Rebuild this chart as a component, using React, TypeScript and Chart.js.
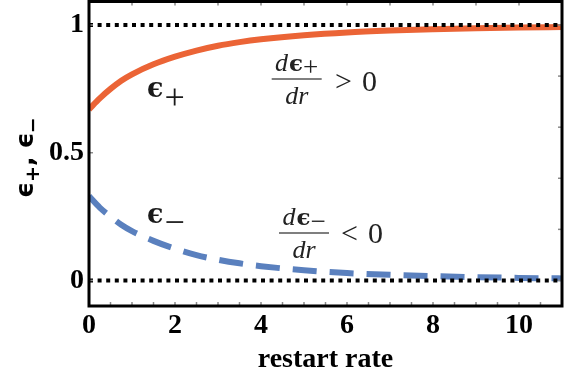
import React, { useEffect, useRef } from "react";
import { Chart, registerables } from "chart.js";

Chart.register(...registerables);

// ---- data ----
const rates = [0, 0.25, 0.5, 0.75, 1, 1.5, 2, 2.5, 3, 3.5, 4, 5, 6, 7, 8, 9, 10, 11];
const epsPlus = [0.67, 0.713, 0.75, 0.782, 0.807, 0.846, 0.876, 0.9, 0.919, 0.933, 0.944, 0.96, 0.971, 0.978, 0.983, 0.987, 0.99, 0.992];
const epsMinus = [0.33, 0.285, 0.25, 0.218, 0.193, 0.155, 0.124, 0.099, 0.081, 0.067, 0.056, 0.04, 0.029, 0.022, 0.017, 0.013, 0.01, 0.008];
const limitRates = [0, 11];
const upperLimit = [1, 1];
const lowerLimit = [0, 0];
const xTickValues = [0, 2, 4, 6, 8, 10];
const yTickValues = [0, 0.5, 1];
const yTickLabels = ["0", "0.5", "1"];
const xMinorBottom = [0, 0.5, 1, 1.5, 2, 2.5, 3, 3.5, 4, 4.5, 5, 5.5, 6, 6.5, 7, 7.5, 8, 8.5, 9, 9.5, 10, 10.5];
const xMinorTop = [1, 2, 3, 4, 5, 6, 7, 8, 9, 10];
const yMinorLeft = [0, 0.5, 1];
const yMinorRight = [0, 0.2, 0.4, 0.6, 0.8, 1];
const xTitle = "restart rate";

const ORANGE = "#EB6436";
const BLUE = "#5A80BE";

type Seg = { t: string; font: string; dy?: number; dx?: number };

function segWidth(ctx: CanvasRenderingContext2D, segs: Seg[]) {
  let w = 0;
  for (const s of segs) {
    ctx.font = s.font;
    w += ctx.measureText(s.t).width + (s.dx || 0);
  }
  return w;
}

function drawSegs(ctx: CanvasRenderingContext2D, segs: Seg[], x: number, y: number, align: "left" | "center" = "left") {
  let cx = align === "center" ? x - segWidth(ctx, segs) / 2 : x;
  ctx.textBaseline = "alphabetic";
  ctx.textAlign = "left";
  for (const s of segs) {
    ctx.font = s.font;
    cx += s.dx || 0;
    ctx.fillText(s.t, cx, y + (s.dy || 0));
    cx += ctx.measureText(s.t).width;
  }
}

const EPS_FONT = "bold 27px 'DejaVu Serif'";
const BIG_PLUS = "36px 'Liberation Serif'";
const MATH_IT = "italic 26px 'Liberation Serif'";
const MATH_RM = "30px 'Liberation Serif'";
const SUB_RM = "27px 'Liberation Serif'";
const TITLE_EPS = "bold 25px 'DejaVu Sans'";
const TITLE_SUB = "bold 19px 'DejaVu Sans'";

const decorPlugin = {
  id: "decor",
  afterDatasetsDraw(chart: any) {
    const { ctx, chartArea: a, scales } = chart;
    const x = scales.x;
    const y = scales.y;
    ctx.save();
    // small inner tick marks
    ctx.strokeStyle = "#8a8a8a";
    ctx.lineWidth = 1.5;
    const seg = (x1: number, y1: number, x2: number, y2: number) => {
      ctx.beginPath();
      ctx.moveTo(x1, y1);
      ctx.lineTo(x2, y2);
      ctx.stroke();
    };
    xMinorBottom.forEach((v) => {
      const p = x.getPixelForValue(v);
      seg(p, a.bottom, p, a.bottom - 4);
    });
    xMinorTop.forEach((v) => {
      const p = x.getPixelForValue(v);
      seg(p, a.top, p, a.top + 4);
    });
    yMinorLeft.forEach((v) => {
      const p = y.getPixelForValue(v);
      seg(a.left, p, a.left + 4, p);
    });
    yMinorRight.forEach((v) => {
      const p = y.getPixelForValue(v);
      seg(a.right, p, a.right - 4, p);
    });
    // frame
    ctx.strokeStyle = "#000";
    ctx.lineWidth = 3;
    ctx.strokeRect(a.left, a.top, a.right - a.left, a.bottom - a.top);

    // curve labels
    ctx.fillStyle = "#1a1a1a";
    drawSegs(ctx, [
      { t: "ϵ", font: EPS_FONT },
      { t: "+", font: BIG_PLUS, dy: 12, dx: 1 },
    ], x.getPixelForValue(1.35), y.getPixelForValue(0.718));
    drawSegs(ctx, [
      { t: "ϵ", font: EPS_FONT },
      { t: "−", font: BIG_PLUS, dy: 11, dx: 1 },
    ], x.getPixelForValue(1.35), y.getPixelForValue(0.225));

    // derivative annotations
    const fraction = (cr: number, bv: number, sub: string, rel: string, relR: number, relDy: number) => {
      const cx = x.getPixelForValue(cr);
      const by = y.getPixelForValue(bv);
      ctx.fillStyle = "#222";
      drawSegs(ctx, [
        { t: "d", font: MATH_IT },
        { t: "ϵ", font: "bold 23px 'DejaVu Serif'", dx: 1 },
        { t: sub, font: SUB_RM, dy: 5 },
      ], cx, by - 8, "center");
      drawSegs(ctx, [{ t: "dr", font: MATH_IT }], cx, by + 25, "center");
      ctx.strokeStyle = "#555";
      ctx.lineWidth = 1.5;
      seg(cx - 25, by, cx + 25, by);
      drawSegs(ctx, [
        { t: rel, font: MATH_RM },
        { t: "0", font: MATH_RM, dx: 10 },
      ], x.getPixelForValue(relR), by + relDy);
    };
    fraction(4.83, 0.789, "+", ">", 5.72, 12);
    fraction(5.0, 0.186, "−", "<", 5.86, 10);

    // rotated y-axis title
    ctx.save();
    ctx.translate(33, 198);
    ctx.rotate(-Math.PI / 2);
    ctx.fillStyle = "#000";
    drawSegs(ctx, [
      { t: "ϵ", font: TITLE_EPS },
      { t: "+", font: TITLE_SUB, dy: 6 },
      { t: ",", font: TITLE_EPS },
      { t: "ϵ", font: TITLE_EPS, dx: 8 },
      { t: "−", font: TITLE_SUB, dy: 6, dx: -1 },
    ], 0, 0);
    ctx.restore();

    ctx.restore();
  },
};

export default function App() {
  const ref = useRef<HTMLCanvasElement | null>(null);
  useEffect(() => {
    if (!ref.current) return;
    const tickFont = { family: "'Liberation Serif'", size: 28, weight: "bold" as const };
    const chart = new Chart(ref.current, {
      type: "line",
      data: {
        datasets: [
          {
            label: "ε=1",
            data: limitRates.map((r, i) => ({ x: r, y: upperLimit[i] })),
            borderColor: "#000",
            borderWidth: 4,
            borderDash: [4, 4.6],
            pointRadius: 0,
          },
          {
            label: "ε=0",
            data: limitRates.map((r, i) => ({ x: r, y: lowerLimit[i] })),
            borderColor: "#000",
            borderWidth: 4,
            borderDash: [4, 4.6],
            pointRadius: 0,
          },
          {
            label: "ε+",
            data: rates.map((r, i) => ({ x: r, y: epsPlus[i] })),
            borderColor: ORANGE,
            borderWidth: 6,
            pointRadius: 0,
            cubicInterpolationMode: "monotone",
          },
          {
            label: "ε-",
            data: rates.map((r, i) => ({ x: r, y: epsMinus[i] })),
            borderColor: BLUE,
            borderWidth: 6,
            borderDash: [24, 13],
            pointRadius: 0,
            cubicInterpolationMode: "monotone",
          },
        ],
      },
      options: {
        responsive: false,
        animation: false,
        layout: { padding: { top: 1.5, right: 12, left: 0, bottom: 0 } },
        plugins: { legend: { display: false }, tooltip: { enabled: false } },
        scales: {
          x: {
            type: "linear",
            min: 0,
            max: 11,
            grid: { display: false, drawTicks: false },
            border: { display: false },
            afterBuildTicks: (s: any) => {
              s.ticks = xTickValues.map((v) => ({ value: v }));
            },
            afterFit: (s: any) => {
              s.height = 75;
              s.paddingLeft = 0;
              s.paddingRight = 0;
            },
            ticks: { font: tickFont, color: "#000", padding: 3, maxRotation: 0 },
            title: {
              display: true,
              text: xTitle,
              font: tickFont,
              color: "#000",
              padding: { top: 0, bottom: 4 },
            },
          },
          y: {
            type: "linear",
            min: -0.1,
            max: 1.092,
            grid: { display: false, drawTicks: false },
            border: { display: false },
            afterBuildTicks: (s: any) => {
              s.ticks = yTickValues.map((v) => ({ value: v }));
            },
            afterFit: (s: any) => {
              s.width = 89;
              s.paddingTop = 0;
              s.paddingBottom = 0;
            },
            ticks: {
              font: tickFont,
              color: "#000",
              padding: 5,
              callback: (v: any) => {
                const i = yTickValues.indexOf(Number(v));
                return i >= 0 ? yTickLabels[i] : "";
              },
            },
          },
        },
      },
      plugins: [decorPlugin],
    });
    return () => chart.destroy();
  }, []);
  return (
    <div style={{ position: "fixed", left: 0, top: 0, width: 574, height: 381, background: "#fff" }}>
      <canvas ref={ref} width={574} height={381} style={{ display: "block" }} />
    </div>
  );
}
